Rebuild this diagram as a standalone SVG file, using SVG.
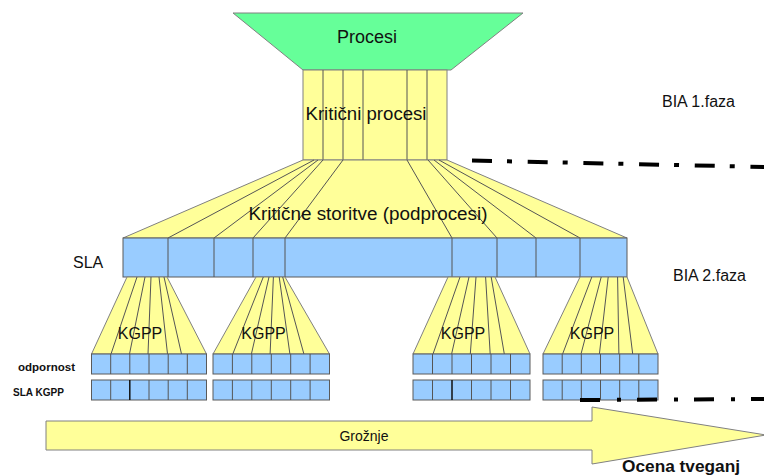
<svg xmlns="http://www.w3.org/2000/svg" width="764" height="476" viewBox="0 0 764 476">
<style>
text{font-family:"Liberation Sans",Arial,sans-serif;fill:#111}
.y{fill:#ffff99;stroke:#808080;stroke-width:1}
.g{fill:#66ff99;stroke:#808080;stroke-width:1}
.b{fill:#99ccff;stroke:#5a5a5a;stroke-width:1}
.ln{stroke:#555;stroke-width:1;fill:none}
.dd{stroke:#000;stroke-width:4;fill:none}
.lbl{font-size:11px;font-weight:bold}
</style>
<rect width="764" height="476" fill="#fff"/>

<g id="procesi">
<polygon class="g" points="233,13 523,13 451,70 303,70"/>
<text x="367" y="43" font-size="18" text-anchor="middle">Procesi</text>
</g>

<g id="kriticni-procesi">
<rect class="y" x="303" y="70" width="144" height="90"/>
<path class="ln" d="M323,70V160M343,70V160M363,70V160M407,70V160M427,70V160"/>
<text x="366" y="120" font-size="18" text-anchor="middle" textLength="121" lengthAdjust="spacingAndGlyphs">Kritični procesi</text>
</g>

<g id="kriticne-storitve">
<polygon class="y" points="303,160 447,160 627,238 123,238"/>
<path class="ln" d="M314,160L168,238M318,160L214,238M323,160L253,238M343,160L285,238M407,160L452,238M428,160L497,238M434,160L536,238M439,160L580,238"/>
<text x="368" y="220" font-size="18" text-anchor="middle" textLength="239" lengthAdjust="spacingAndGlyphs">Kritične storitve (podprocesi)</text>
</g>

<g id="sla-bar">
<rect class="b" x="123" y="238" width="504" height="39"/>
<path class="ln" d="M168,238V277M214,238V277M253,238V277M285,238V277M452,238V277M497,238V277M536,238V277M580,238V277"/>
</g>

<g id="kgpp-1">
<polygon class="y" points="127,277 167,277 206.5,354 91.5,354"/>
<path class="ln" d="M137,277L111,354M145,277L129.5,354M151,277L148,354M159,277L167.5,354M164,277L181.5,354"/>
<text x="140" y="339" font-size="16" text-anchor="middle">KGPP</text>
</g>
<g id="kgpp-2">
<polygon class="y" points="256,277 285,277 329.5,354 213,354"/>
<path class="ln" d="M263.3,277L232.8,354M269,277L251.4,354M273.4,277L270.1,354M279.2,277L289.9,354M282.7,277L303.9,354"/>
<text x="263.5" y="339" font-size="16" text-anchor="middle">KGPP</text>
</g>
<g id="kgpp-3">
<polygon class="y" points="448,277 495,277 530,354 413,354"/>
<path class="ln" d="M460,277L433,354M469,277L451.6,354M476,277L470.3,354M485.6,277L490.2,354M491.2,277L504.3,354"/>
<text x="463" y="339" font-size="16" text-anchor="middle">KGPP</text>
</g>
<g id="kgpp-4">
<polygon class="y" points="580,277 627,277 658,354 543,354"/>
<path class="ln" d="M591.8,277L562.6,354M601.2,277L581,354M608.2,277L599.4,354M617.6,277L618.9,354M623.2,277L632.7,354"/>
<text x="592" y="339" font-size="16" text-anchor="middle">KGPP</text>
</g>

<g id="odpornost-row">
<rect class="b" x="91.5" y="354" width="115" height="20"/>
<path class="ln" d="M110.7,354v20M129.8,354v20M149,354v20M168.2,354v20M187.3,354v20"/>
<rect class="b" x="213" y="354" width="116.5" height="20"/>
<path class="ln" d="M232.4,354v20M251.8,354v20M271.3,354v20M290.7,354v20M310.1,354v20"/>
<rect class="b" x="413" y="354" width="117" height="20"/>
<path class="ln" d="M432.5,354v20M452,354v20M471.5,354v20M491,354v20M510.5,354v20"/>
<rect class="b" x="543" y="354" width="115" height="20"/>
<path class="ln" d="M562.2,354v20M581.3,354v20M600.5,354v20M619.7,354v20M638.8,354v20"/>
</g>

<g id="sla-kgpp-row">
<rect class="b" x="91.5" y="380" width="115" height="20"/>
<path class="ln" d="M110.7,380v20M149,380v20M168.2,380v20M187.3,380v20"/>
<path d="M129.8,380v20" stroke="#111" stroke-width="1.5"/>
<rect class="b" x="213" y="380" width="116.5" height="20"/>
<path class="ln" d="M232.4,380v20M251.8,380v20M271.3,380v20M290.7,380v20M310.1,380v20"/>
<rect class="b" x="413" y="380" width="117" height="20"/>
<path class="ln" d="M432.5,380v20M471.5,380v20M491,380v20M510.5,380v20"/>
<path d="M452,380v20" stroke="#111" stroke-width="1.5"/>
<rect class="b" x="543" y="380" width="115" height="20"/>
<path class="ln" d="M562.2,380v20M581.3,380v20M600.5,380v20M619.7,380v20M638.8,380v20"/>
</g>

<g id="labels">
<text x="73" y="268" font-size="16">SLA</text>
<text x="18" y="371" class="lbl" textLength="57" lengthAdjust="spacingAndGlyphs">odpornost</text>
<text x="13" y="396" class="lbl" textLength="51" lengthAdjust="spacingAndGlyphs">SLA KGPP</text>
<text x="662" y="107" font-size="16">BIA 1.faza</text>
<text x="673" y="281" font-size="16">BIA 2.faza</text>
</g>

<g id="connectors">
<path class="dd" d="M472,160.5L766,167" stroke-dasharray="20 15 5 15.7"/>
<path class="dd" d="M580,400L766,399" stroke-width="3.6" stroke-dasharray="20 17 4 16"/>
</g>

<g id="groznje">
<polygon class="y" points="46,421 592,421 592,407 766,435 592,464 592,450 46,450"/>
<text x="364" y="441" font-size="14" text-anchor="middle">Grožnje</text>
</g>

<g id="ocena">
<text x="622" y="472" font-size="16" font-weight="bold" textLength="118" lengthAdjust="spacingAndGlyphs">Ocena tveganj</text>
</g>
</svg>
